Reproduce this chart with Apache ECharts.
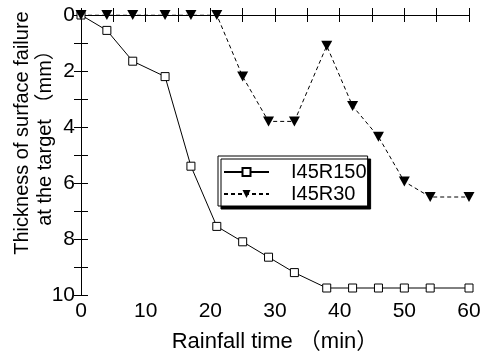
<!DOCTYPE html>
<html>
<head>
<meta charset="utf-8">
<script src="https://cdn.jsdelivr.net/npm/echarts@6/dist/echarts.min.js"></script>
<style>
  html, body { margin: 0; padding: 0; background: #fff; }
  #chart { width: 484px; height: 356px; }
</style>
</head>
<body>
<div id="chart"></div>
<script>
// rainfall time (min)
const times = [0, 4, 8, 13, 17, 21, 25, 29, 33, 38, 42, 46, 50, 54, 60];
// thickness of surface failure (mm)
const i45r150 = [0, 0.55, 1.65, 2.2, 5.4, 7.55, 8.1, 8.65, 9.2, 9.75, 9.75, 9.75, 9.75, 9.75, 9.75];
const i45r30 = [0, 0, 0, 0, 0, 0, 2.2, 3.8, 3.8, 1.1, 3.25, 4.35, 5.95, 6.5, 6.5];
const xTicks = [0, 10, 20, 30, 40, 50, 60];
const yTicks = [0, 2, 4, 6, 8, 10];

const font = "'Liberation Sans', Arial, 'Noto Sans CJK JP', sans-serif";
const pair = (xs, ys) => xs.map((x, i) => [x, ys[i]]);

const chart = echarts.init(document.getElementById("chart"));

const tickStyle = {
  axisLine: { show: true, lineStyle: { color: "#000", width: 1 } },
  axisTick: { show: true, inside: true, length: 7, lineStyle: { color: "#000" } },
  minorTick: { show: true, splitNumber: 2, length: 7, lineStyle: { color: "#000" } },
  splitLine: { show: false },
};

chart.setOption({
  animation: false,
  textStyle: { fontFamily: font, color: "#000" },
  grid: { left: 81, right: 15, top: 15, bottom: 61, containLabel: false, outerBoundsMode: "none" },
  legend: {
    orient: "vertical",
    left: 218,
    top: 156,
    padding: [5, 1, 1, 5],
    itemGap: 0,
    itemWidth: 45,
    itemHeight: 10,
    backgroundColor: "#fff",
    borderColor: "#000",
    borderWidth: 1,
    borderRadius: 0,
    shadowColor: "#000",
    shadowOffsetX: 3,
    shadowOffsetY: 3,
    shadowBlur: 0,
    textStyle: { fontSize: 20, lineHeight: 22, color: "#000", fontFamily: font, padding: [0, 0, 0, 17] },
    data: ["I45R150", "I45R30"],
  },
  xAxis: [
    {
      type: "value",
      min: xTicks[0],
      max: xTicks[xTicks.length - 1],
      interval: 10,
      name: "Rainfall time （min）",
      nameLocation: "middle",
      nameGap: 36,
      nameMoveOverlap: false,
      nameTextStyle: { fontSize: 22, color: "#000", fontFamily: font },
      axisLabel: { fontSize: 21, color: "#000", margin: 6, fontFamily: font },
      ...tickStyle,
    },
    {
      type: "value",
      position: "top",
      min: xTicks[0],
      max: xTicks[xTicks.length - 1],
      interval: 10,
      axisLabel: { show: false },
      ...tickStyle,
    },
  ],
  yAxis: [
    {
      type: "value",
      inverse: true,
      min: yTicks[0],
      max: yTicks[yTicks.length - 1],
      interval: 2,
      name: "Thickness of surface failure\nat the target （mm）",
      nameLocation: "middle",
      nameGap: 24,
      nameMoveOverlap: false,
      nameTextStyle: { fontSize: 20, lineHeight: 23, color: "#000", fontFamily: font, padding: [0, 0, 0, 44] },
      axisLabel: { fontSize: 21, color: "#000", margin: 6, fontFamily: font },
      ...tickStyle,
    },
    {
      type: "value",
      position: "right",
      inverse: true,
      min: yTicks[0],
      max: yTicks[yTicks.length - 1],
      interval: 2,
      axisLabel: { show: false },
      ...tickStyle,
    },
  ],
  series: [
    {
      name: "I45R150",
      type: "line",
      data: pair(times, i45r150),
      symbol: "rect",
      symbolSize: 8,
      showAllSymbol: true,
      lineStyle: { color: "#000", width: 1 },
      itemStyle: { color: "#fff", borderColor: "#000", borderWidth: 1 },
    },
    {
      name: "I45R30",
      type: "line",
      data: pair(times, i45r30),
      symbol: "triangle",
      symbolRotate: 180,
      symbolSize: [11, 10],
      showAllSymbol: true,
      lineStyle: { color: "#000", width: 1, type: [4, 3] },
      itemStyle: { color: "#000", borderColor: "#000", borderWidth: 0 },
    },
  ],
});
</script>
</body>
</html>
